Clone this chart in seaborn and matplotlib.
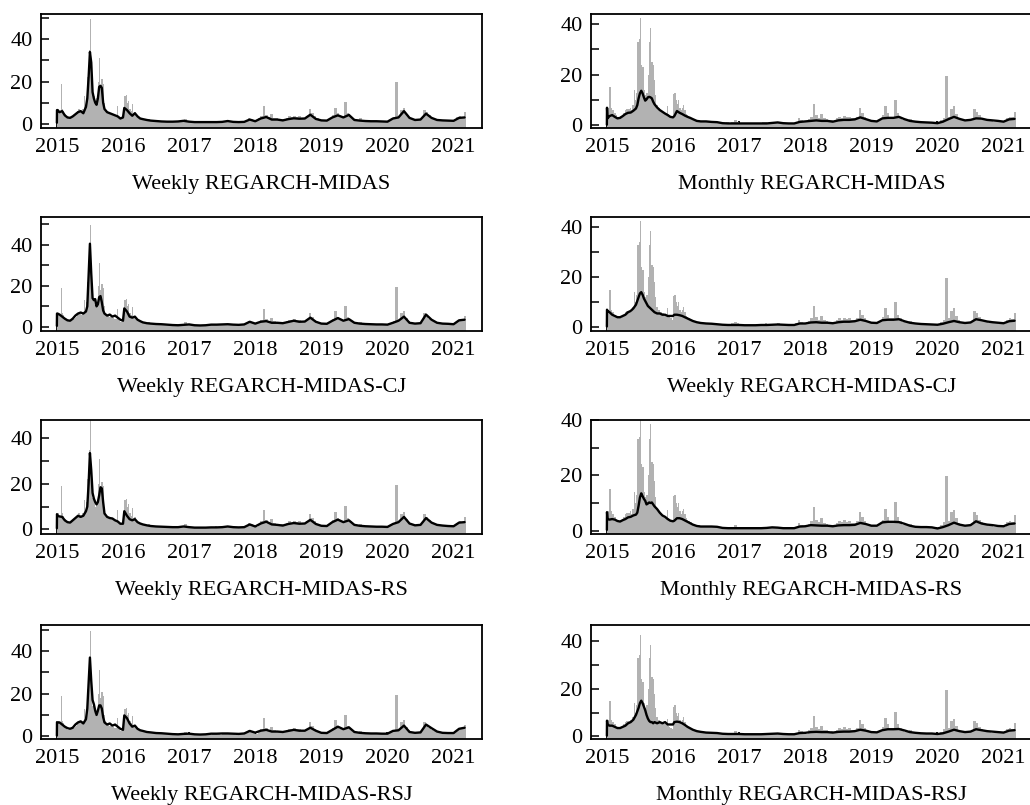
import numpy as np
import matplotlib
matplotlib.use("Agg")
import matplotlib.pyplot as plt
from matplotlib.ticker import MultipleLocator
import seaborn as sns

sns.set_theme(style="ticks")
plt.rcParams["font.family"] = ["Liberation Serif", "DejaVu Serif"]

# ---------------- data ----------------
# realized volatility (grey): weekly 2015.0-2016.5, bi-weekly afterwards
rv_early_weekly_panels = [6, 7, 6, 19, 7, 6, 4.5, 3.5, 3, 2.8,
                          3, 3.2, 3.5, 4, 4.5, 5, 6, 7, 6.5, 6,
                          7, 13, 8, 12, 22, 35, 49.5, 24, 14, 13,
                          10, 12, 20, 31, 18, 21, 19, 10, 7, 6,
                          5.5, 5, 5, 4.5, 4.5, 4, 4, 8.5, 3.5, 3,
                          2.5, 2.5, 3, 13, 13.5, 10, 11, 7, 6, 9.5,
                          5, 5.5, 4, 3.5, 3, 2.5, 2.5, 2.2, 2.0, 2.0,
                          1.8, 1.8, 2.2, 1.6, 1.5, 1.5, 1.4, 1.4]
rv_early_monthly_panels = [6, 7, 15, 7, 6, 6, 5, 4, 3.5, 3.5,
                           3.8, 3.8, 4, 5, 6, 6.5, 6.5, 6.5, 7, 6,
                           8, 14, 10, 13, 33, 34, 42.5, 24, 23, 14,
                           12, 13, 20, 33, 38.5, 25, 24, 18, 12, 8,
                           7, 7, 6, 5.5, 5.5, 5, 5, 7.5, 4.5, 4,
                           3.5, 3, 12.5, 13, 10, 8.5, 10, 7, 6, 7,
                           8, 6, 4.5, 4, 3.5, 3, 3, 2.5, 2.5, 2.2,
                           2, 2, 2, 1.8, 1.7, 1.6, 1.5, 1.5]
rv_late = [1.4, 1.3, 1.3, 1.2, 1.2, 1.1, 1.1, 1.0, 1.2, 1.0,
           1.5, 2.2, 1.5, 1.1, 0.9, 0.9, 0.8, 0.8, 0.8, 0.9,
           0.8, 0.8, 1.2, 1.5, 0.9, 0.8, 0.9, 1.3, 1.5, 1.2,
           0.9, 0.8, 0.8, 0.9, 1.0, 1.5, 2.8, 2.2, 1.5, 1.2,
           2.5, 3.5, 8.6, 4.0, 3.0, 4.5, 2.8, 2.5, 2.0, 2.2,
           1.8, 2.8, 3.5, 3.0, 3.8, 3.2, 3.5, 2.8, 2.8, 3.5,
           6.9, 5.0, 3.5, 2.5, 2.0, 1.8, 1.6, 1.8, 2.5, 4.0,
           7.7, 5.0, 3.5, 3.5, 10.2, 5.0, 3.5, 2.2, 2.0, 1.8,
           2.5, 1.8, 1.5, 1.4, 1.3, 1.3, 1.2, 1.2, 1.2, 1.1,
           1.0, 1.2, 2.0, 3.0, 19.6, 3.5, 6.6, 7.5, 4.5, 2.8,
           2.2, 1.8, 1.8, 2.0, 2.5, 6.6, 5.5, 4.0, 3.0, 2.4,
           2.0, 1.8, 1.6, 1.5, 1.5, 1.4, 1.3, 1.5, 3.0, 3.5,
           3.2, 5.5]
rv_early_x = 2015 + np.arange(len(rv_early_weekly_panels)) / 52
rv_late_x = 2016.5 + np.arange(len(rv_late)) / 26

# fitted volatility lines: dense dates in 2015-2016.5, monthly afterwards
line_x_early = [2015.000, 2015.002, 2015.01, 2015.04, 2015.08, 2015.12, 2015.16,
                2015.20, 2015.24, 2015.28, 2015.32, 2015.36, 2015.40, 2015.44,
                2015.46, 2015.48, 2015.50, 2015.52, 2015.54, 2015.56, 2015.58,
                2015.60, 2015.62, 2015.64, 2015.66, 2015.68, 2015.70, 2015.72,
                2015.76, 2015.80, 2015.84, 2015.88, 2015.92, 2015.96, 2016.00,
                2016.02, 2016.06, 2016.10, 2016.14, 2016.18, 2016.22, 2016.26,
                2016.30, 2016.36, 2016.42, 2016.50]
line_x_late = 2016.5 + np.arange(1, 57) / 12

w_midas = [0.5, 6.5, 6.5, 5.5, 6.0, 4.0, 3.0, 2.8, 3.5, 4.5, 5.5, 6.0, 5.0, 8.0,
           12, 22, 34, 29, 15, 12, 10, 9, 12, 17.5, 18, 17, 10, 7,
           5.5, 5.0, 4.5, 4.0, 3.5, 2.5, 3.0, 7.5, 6.5, 5.0, 3.8, 5.0, 3.5, 2.5,
           2.2, 1.8, 1.5, 1.3,
           1.1, 1.0, 1.0, 1.1, 1.4,
           1.0, 0.8, 0.8, 0.8, 0.8, 0.8, 0.9, 1.3, 0.9, 0.8, 0.9, 2.0,
           1.2, 2.5, 3.2, 2.0, 2.0, 1.6, 2.2, 2.6, 2.4, 2.5, 4.3, 2.3,
           1.6, 1.5, 3.0, 4.0, 3.0, 4.2, 1.8, 1.5, 1.3, 1.2, 1.2, 1.1,
           1.0, 2.5, 3.0, 6.0, 2.8, 1.8, 2.0, 4.8, 2.8, 1.8, 1.6, 1.5,
           1.4, 2.8, 3.0]
m_midas = [0.3, 7.0, 2.8, 3.7, 4.1, 3.4, 2.8, 3.0, 3.7, 4.5, 5.0, 5.1, 5.8, 6.7,
           8.0, 10.7, 12.7, 13.7, 12.7, 11.1, 9.8, 10.3, 11.1, 11.3, 11.1, 10.7, 9.4, 8.4,
           7.1, 6.1, 5.4, 4.7, 4.1, 3.4, 3.2, 3.7, 5.7, 5.0, 4.5, 3.9, 3.4, 3.0,
           2.5, 1.8, 1.6, 1.6,
           1.4, 1.3, 0.9, 0.8, 0.8,
           0.8, 0.8, 0.8, 0.8, 0.8, 0.8, 1.0, 1.2, 0.9, 0.8, 0.8, 1.4,
           1.6, 1.8, 2.0, 1.8, 1.8, 1.5, 2.0, 2.2, 2.2, 2.4, 3.2, 2.5,
           1.8, 1.6, 2.8, 3.0, 3.0, 3.4, 2.5, 1.8, 1.5, 1.3, 1.2, 1.1,
           0.9, 1.5, 2.5, 3.4, 2.6, 2.0, 2.2, 2.8, 2.7, 2.2, 2.0, 1.8,
           1.5, 2.4, 2.6]
w_cj = [0.5, 6.5, 6.5, 6.0, 5.0, 4.0, 3.2, 3.0, 4.0, 5.5, 6.5, 7.0, 6.5, 7.5,
        10, 25, 40.5, 26, 14, 13, 13.5, 10, 11, 14.5, 15, 12, 8, 6.5,
        5.5, 6.0, 5.0, 5.5, 4.5, 3.5, 3.0, 9.0, 7.5, 5.0, 4.5, 5.0, 3.5, 2.8,
        2.2, 1.8, 1.6, 1.4,
        1.3, 1.1, 0.9, 0.8, 1.0,
        1.2, 0.8, 0.7, 0.8, 1.1, 1.1, 1.2, 1.3, 1.1, 1.0, 1.2, 2.5,
        1.6, 2.5, 2.8, 2.0, 2.0, 1.8, 2.4, 3.0, 2.5, 2.6, 4.5, 2.5,
        1.6, 1.5, 3.0, 4.3, 3.0, 3.8, 2.0, 1.6, 1.4, 1.3, 1.2, 1.2,
        1.1, 2.0, 3.0, 5.0, 2.0, 1.6, 1.8, 6.0, 3.5, 2.0, 1.6, 1.5,
        1.3, 3.2, 3.5]
m_cj = [0.3, 7.0, 6.5, 6.0, 5.0, 4.5, 4.0, 4.0, 4.5, 5.0, 6.0, 6.5, 7.5, 9.0,
        10.5, 12.0, 13.5, 14.0, 13.0, 11.5, 10.5, 9.5, 8.5, 8.0, 7.5, 7.0, 6.5, 6.0,
        5.5, 5.5, 5.0, 5.0, 4.5, 4.5, 4.5, 5.0, 5.0, 4.8, 4.5, 4.0, 3.5, 3.0,
        2.5, 2.0, 1.7, 1.5,
        1.4, 1.2, 1.0, 0.9, 0.9,
        0.9, 0.8, 0.8, 0.8, 0.9, 0.9, 1.0, 1.1, 1.0, 0.9, 0.9, 1.5,
        1.5, 1.9, 2.0, 1.8, 1.8, 1.6, 2.0, 2.2, 2.2, 2.4, 3.0, 2.5,
        1.8, 1.7, 2.8, 3.0, 3.0, 3.2, 2.4, 1.8, 1.5, 1.3, 1.2, 1.1,
        1.0, 1.4, 2.0, 2.5, 2.0, 1.7, 1.9, 3.2, 2.8, 2.3, 2.0, 1.8,
        1.6, 2.4, 2.6]
w_rs = [0.5, 6.7, 6.0, 5.7, 5.5, 4.0, 3.2, 3.0, 4.0, 5.0, 6.0, 5.5, 6.0, 8.0,
        10, 20, 33.5, 26, 16, 13.5, 12, 11, 12, 15, 18.5, 18, 12, 7.0,
        5.5, 5.0, 4.8, 4.0, 3.5, 2.5, 2.5, 8.0, 6.0, 4.5, 4.0, 4.5, 3.2, 2.6,
        2.2, 1.8, 1.5, 1.3,
        1.2, 1.1, 1.0, 1.0, 1.3,
        1.0, 0.8, 0.8, 0.8, 0.9, 0.9, 1.0, 1.3, 1.0, 0.9, 1.0, 2.2,
        1.3, 2.6, 3.4, 2.2, 2.0, 1.7, 2.4, 2.8, 2.5, 2.6, 4.2, 2.4,
        1.6, 1.5, 3.2, 4.3, 3.2, 4.0, 2.0, 1.6, 1.4, 1.3, 1.2, 1.2,
        1.1, 2.4, 3.2, 5.5, 2.6, 1.8, 2.0, 5.0, 3.0, 2.0, 1.7, 1.5,
        1.4, 3.0, 3.2]
m_rs = [0.3, 6.7, 4.2, 4.0, 4.2, 4.0, 3.5, 3.3, 3.8, 4.2, 4.8, 5.0, 5.5, 5.8,
        6.5, 9.0, 12.0, 13.5, 12.5, 11.5, 10.8, 9.5, 9.8, 10.2, 10.0, 10.2, 9.5, 8.8,
        7.8, 6.5, 5.5, 5.0, 4.2, 3.6, 3.4, 3.6, 4.5, 4.5, 4.2, 3.7, 3.2, 2.7,
        2.2, 1.7, 1.5, 1.5,
        1.5, 1.4, 1.0, 0.9, 0.9,
        0.9, 0.9, 0.9, 0.9, 0.9, 1.0, 1.2, 1.1, 0.9, 0.9, 0.9, 1.5,
        1.6, 2.0, 1.9, 1.8, 1.8, 1.6, 1.9, 2.0, 2.0, 2.1, 2.8, 2.4,
        1.8, 1.8, 3.0, 3.2, 3.2, 3.1, 2.5, 1.8, 1.4, 1.3, 1.3, 1.2,
        0.8, 1.3, 2.0, 2.9, 2.2, 1.8, 2.0, 3.4, 2.6, 2.2, 2.0, 1.7,
        1.6, 2.4, 2.6]
w_rsj = [0.3, 6.6, 6.5, 6.5, 5.5, 4.5, 3.8, 3.5, 4.0, 5.5, 6.5, 7.0, 6.0, 8.0,
         13, 25, 37, 26, 17, 15, 12, 10, 12, 14.5, 14.5, 13, 9, 6.5,
         5.5, 6.0, 5.0, 5.5, 4.5, 3.5, 3.0, 9.8, 8.5, 6.0, 4.5, 5.0, 3.5, 2.8,
         2.5, 2.0, 1.8, 1.5,
         1.4, 1.2, 1.0, 0.9, 1.1,
         1.2, 0.9, 0.8, 0.9, 1.2, 1.2, 1.3, 1.3, 1.2, 1.1, 1.3, 2.5,
         1.7, 2.6, 3.0, 2.2, 2.2, 2.0, 2.5, 3.0, 2.6, 2.6, 4.0, 2.6,
         1.6, 1.5, 3.0, 4.5, 3.3, 4.2, 2.0, 1.6, 1.4, 1.3, 1.3, 1.2,
         1.2, 2.5, 2.8, 5.0, 2.0, 1.6, 1.8, 5.5, 3.8, 2.2, 1.6, 1.5,
         1.5, 3.5, 4.0]
m_rsj = [0.3, 6.6, 5.0, 4.5, 4.5, 4.0, 3.5, 3.5, 4.0, 4.5, 5.5, 6.0, 7.0, 9.0,
         10.5, 12.0, 14.0, 15.0, 14.0, 12.5, 11.0, 9.0, 7.5, 6.5, 6.0, 6.0, 5.5, 6.0,
         5.5, 6.0, 5.5, 6.0, 5.0, 5.0, 5.0, 6.0, 6.2, 6.0, 5.5, 4.8, 4.0, 3.4,
         2.8, 2.2, 1.9, 1.6,
         1.5, 1.4, 1.1, 1.0, 1.0,
         1.0, 0.9, 0.9, 0.9, 0.9, 1.0, 1.1, 1.2, 1.0, 0.9, 0.9, 1.4,
         1.5, 1.8, 1.9, 1.8, 1.8, 1.6, 1.9, 2.0, 2.0, 2.2, 2.8, 2.4,
         1.8, 1.7, 2.6, 3.0, 3.0, 3.1, 2.5, 1.8, 1.5, 1.3, 1.2, 1.2,
         1.0, 1.3, 2.0, 2.8, 2.2, 1.8, 2.0, 3.0, 2.6, 2.2, 2.0, 1.8,
         1.6, 2.4, 2.6]

titles = ["Weekly REGARCH-MIDAS", "Monthly REGARCH-MIDAS",
          "Weekly REGARCH-MIDAS-CJ", "Weekly REGARCH-MIDAS-CJ",
          "Weekly REGARCH-MIDAS-RS", "Monthly REGARCH-MIDAS-RS",
          "Weekly REGARCH-MIDAS-RSJ", "Monthly REGARCH-MIDAS-RSJ"]
fitted = [w_midas, m_midas, w_cj, m_cj, w_rs, m_rs, w_rsj, m_rsj]
ylims = [(-2, 52), (-1, 44), (-2, 53.5), (-1.5, 44),
         (-2, 48), (-1.2, 40), (-1.3, 52.3), (-1.1, 46.8)]
year_ticks = [2015, 2016, 2017, 2018, 2019, 2020, 2021]

# ---------------- figure ----------------
W, H = 1030, 805
fig = plt.figure(figsize=(W / 100, H / 100), dpi=100)
col_left_px = [41, 591]
col_width_px = 441
row_top_px = [14, 217, 420, 625]
ax_h_px = 114
grey = "#b2b2b2"
FS = 16

line_x = np.concatenate([line_x_early, line_x_late])

for i in range(8):
    r, c = divmod(i, 2)
    ax = fig.add_axes([col_left_px[c] / W, 1 - (row_top_px[r] + ax_h_px) / H,
                       col_width_px / W, ax_h_px / H])
    ax.set_xlim(2014.76, 2021.43)
    ax.set_ylim(*ylims[i])
    lo = ylims[i][0]

    rv_early = rv_early_weekly_panels if c == 0 else rv_early_monthly_panels
    rx = np.concatenate([rv_early_x, rv_late_x])
    rv = np.concatenate([rv_early, rv_late])
    edges = np.append(rx, rx[-1] + (rv_late_x[1] - rv_late_x[0]))
    ax.fill_between(edges, lo, np.append(rv, rv[-1]), step="post",
                    color=grey, linewidth=0, zorder=1)

    sns.lineplot(x=line_x, y=np.asarray(fitted[i]), ax=ax, color="black",
                 linewidth=1.7, zorder=3, estimator=None, sort=False)

    ax.set_xticks(year_ticks)
    ax.set_xticklabels([str(y) for y in year_ticks])
    ax.yaxis.set_major_locator(MultipleLocator(20))
    ax.yaxis.set_minor_locator(MultipleLocator(10))
    ax.tick_params(axis="both", which="both", direction="in", color="black",
                   labelsize=FS, labelcolor="black")
    ax.tick_params(axis="x", which="major", length=5, width=1.3, pad=7,
                   top=False)
    ax.tick_params(axis="y", which="both", length=6, width=1.1, pad=6,
                   right=False)
    ax.tick_params(axis="x", which="minor", bottom=False, top=False)
    for s in ax.spines.values():
        s.set_visible(True)
        s.set_color("black")
        s.set_linewidth(1.3)
    ax.set_xlabel(titles[i], fontsize=FS, labelpad=13, color="black")
    ax.set_ylabel("")
    ax.grid(False)
    ax.set_facecolor("white")

fig.savefig("out.png", dpi=100, facecolor="white")
